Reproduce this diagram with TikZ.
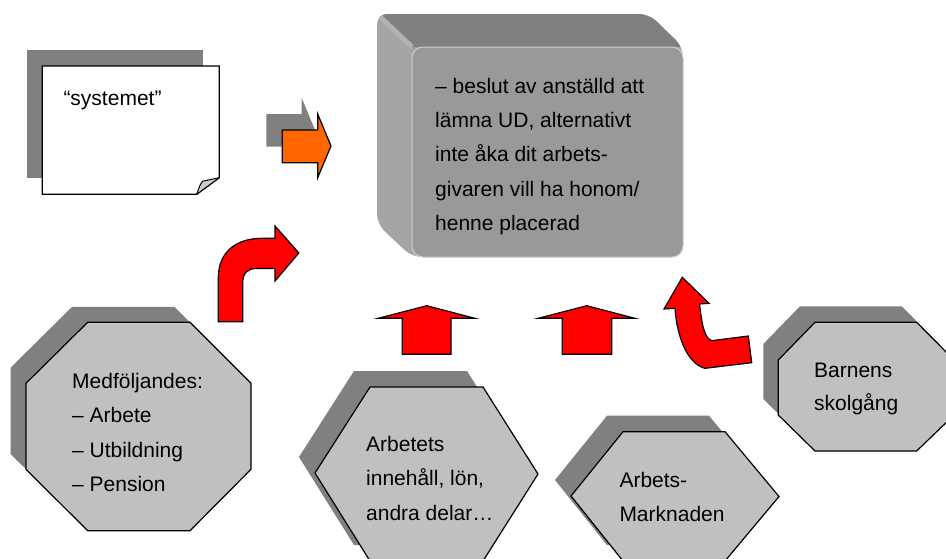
\documentclass[tikz,border=0pt]{standalone}
\usepackage{fontspec}
\setmainfont{Liberation Sans}
\definecolor{shadegray}{RGB}{128,128,128}
\definecolor{facegray}{RGB}{192,192,192}
\definecolor{foldgray}{RGB}{204,204,204}
\definecolor{boxfront}{RGB}{153,153,153}
\definecolor{boxtop}{RGB}{128,128,128}
\definecolor{boxleft}{RGB}{165,165,165}
\definecolor{boxrim}{RGB}{205,205,205}
\definecolor{arroworange}{RGB}{255,102,0}
\definecolor{arrowred}{RGB}{255,0,0}
\tikzset{
  dropshadow/.style={fill=shadegray, draw=none},
  panel/.style={fill=facegray, draw=black, line width=1.2pt, line join=miter},
  blockarrow/.style={fill=arrowred, draw=black, line width=1.2pt, line join=miter},
  lbl/.style={anchor=base west, inner sep=0pt, font=\fontsize{21}{25}\selectfont},
}
% outlines of the shapes (pixel-like units, y grows downwards)
\newcommand\noteOutline{(42.3,66) -- (219.3,66) -- (219.3,177.7) -- (196.7,194.3) -- (42.3,194.3) -- cycle}
\newcommand\orangeOutline{(282.3,130) -- (317.7,130) -- (317.7,114) -- (331,146) -- (317.7,177.7) -- (317.7,162.7) -- (282.3,162.7) -- cycle}
\newcommand\octLeft{(87.7,322.3) -- (190,322.3) -- (251,383.3) -- (251,469.3) -- (190,530.7) -- (87.7,530.7) -- (26,469.3) -- (26,383.3) -- cycle}
\newcommand\octRight{(815,322.3) -- (916.7,322.3) -- (954,360) -- (954,415) -- (916.7,451) -- (815,451) -- (778.3,415) -- (778.3,360) -- cycle}
\newcommand\hexWork{(315,473) -- (370,387) -- (483,387) -- (538,474) -- (483,561) -- (370,561) -- cycle}
\newcommand\hexMarket{(571,496) -- (623,431.7) -- (725,431.7) -- (779,496.5) -- (725,561) -- (623,561) -- cycle}
\newcommand\cubeOutline{(377,14) -- (649,14) -- (683,47) -- (683,257) -- (412,257) -- (377,224) -- cycle}
\begin{document}
\begin{tikzpicture}[x=1pt,y=-1pt]
  \useasboundingbox (0,0) rectangle (946,558);
  \clip (0,0) rectangle (946,558);

  % --- note sheet "systemet" ---
  \fill[dropshadow] (26.7,50) rectangle (202.7,178.3);
  \draw[fill=white, line width=1.2pt, line join=miter] \noteOutline;
  \draw[fill=foldgray, line width=1pt, line join=round]
    (196.7,194.3) .. controls (199,188) and (200,184) .. (202.7,181.2) -- (219.3,177.7) -- cycle;
  \node[lbl] (sys) at (63.3,105) {“systemet”};

  % --- orange block arrow ---
  \fill[dropshadow, shift={(-16,-16)}] \orangeOutline;
  \draw[fill=arroworange, line width=1.2pt, line join=miter] \orangeOutline;

  % --- central decision block (extruded box) ---
  \fill[boxleft, rounded corners=10pt] \cubeOutline;
  \begin{scope}
    \clip[rounded corners=10pt] \cubeOutline;
    \fill[boxtop] (360,-2) -- (700,-2) -- (700,47) -- (412,47) -- cycle;
    \draw[line width=5pt, color=boxleft!85!white] (377,14) -- (412,47);
  \end{scope}
  \draw[fill=boxfront, draw=boxrim, line width=1pt, rounded corners=11pt] (412,47) rectangle (683,257);
  \foreach \t [count=\i] in {– beslut av anställd att, {lämna UD, alternativt}, inte åka dit arbets-, givaren vill ha honom/, henne placerad}
    \node[lbl] (dec\i) at (435, 59.3+34.2*\i) {\t};

  % --- octagon "Medföljandes" ---
  \fill[dropshadow, shift={(-15.5,-15.5)}] \octLeft;
  \draw[panel] \octLeft;
  \foreach \t [count=\i] in {Medföljandes:, – Arbete, – Utbildning, – Pension}
    \node[lbl] (med\i) at (72, 354+34.4*\i) {\t};

  % --- hexagon "Arbetets innehåll" ---
  \fill[dropshadow, shift={(-16,-16)}] \hexWork;
  \draw[panel] \hexWork;
  \foreach \t [count=\i] in {Arbetets, {innehåll, lön,}, andra delar…}
    \node[lbl] (work\i) at (366, 416.5+34.5*\i) {\t};

  % --- hexagon "Arbets-Marknaden" ---
  \fill[dropshadow, shift={(-16,-16)}] \hexMarket;
  \draw[panel] \hexMarket;
  \node[lbl] (mkt1) at (619.3,487.3) {Arbets-};
  \node[lbl] (mkt2) at (619.3,521.7) {Marknaden};

  % --- octagon "Barnens skolgång" ---
  \fill[dropshadow, shift={(-15,-16)}] \octRight;
  \draw[panel] \octRight;
  \node[lbl] (kids1) at (814,377.3) {Barnens};
  \node[lbl] (kids2) at (814,410.7) {skolgång};

  % --- red block arrows ---
  % bent arrow from the left octagon
  \draw[blockarrow] (218.3,321.7) -- (218.3,278)
    .. controls (218.3,252) and (236,238.3) .. (262,238.3) -- (275,238.3) -- (275,226)
    -- (298.8,253) -- (275,281) -- (275,268.5) -- (256,268.5)
    .. controls (248,268.5) and (242.7,273) .. (242.7,283) -- (242.7,321.7) -- cycle;
  % straight up arrows
  \draw[blockarrow] (402.3,354.3) -- (402.3,318.3) -- (378.3,318.3) -- (426.7,305.7)
    -- (475,318.3) -- (451,318.3) -- (451,354.3) -- cycle;
  \draw[blockarrow] (562.3,354.3) -- (562.3,318.3) -- (538.3,318.3) -- (586.7,305.7)
    -- (635,318.3) -- (611.7,318.3) -- (611.7,354.3) -- cycle;
  % curved arrow from the right octagon
  \draw[blockarrow] (682.3,277.3) -- (709,303.3) -- (699.5,304)
    .. controls (702,324) and (704,338) .. (711.7,340.7) -- (748.3,336) -- (751.7,362.7)
    -- (705,368.3) .. controls (688,364) and (677,338) .. (675,308.3) -- (664,309) -- cycle;
\end{tikzpicture}
\end{document}
